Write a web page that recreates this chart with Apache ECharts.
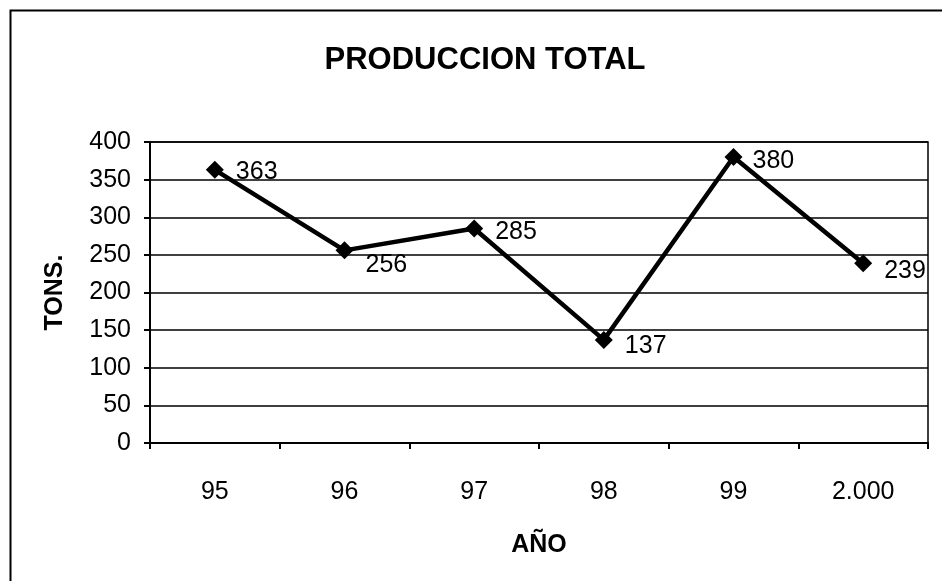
<!DOCTYPE html>
<html>
<head>
<meta charset="utf-8">
<script src="https://cdn.jsdelivr.net/npm/echarts@6/dist/echarts.min.js"></script>
<style>
  html, body { margin: 0; padding: 0; background: #fff; }
  #main { width: 942px; height: 581px; }
</style>
</head>
<body>
<div id="main"></div>
<script>
var years = ['95', '96', '97', '98', '99', '2.000'];
var tons = [363, 256, 285, 137, 380, 239];
var yTicks = [0, 50, 100, 150, 200, 250, 300, 350, 400];

// nudge for each value label (px)
var labelNudge = [[0, 2], [0, 15], [0, 4], [0, 6], [-2, 4], [0, 8]];

var font = 'Liberation Sans, Arial, sans-serif';

var chart = echarts.init(document.getElementById('main'));

var points = tons.map(function (v, i) {
	return {
		value: v,
		label: { offset: labelNudge[i] }
	};
});

chart.setOption({
	animation: false,
	title: {
		text: 'PRODUCCION TOTAL',
		left: 480,
		top: 40,
		textAlign: 'center',
		textStyle: { fontFamily: font, fontSize: 31, fontWeight: 'bold', color: '#000' }
	},
	graphic: [{
		type: 'rect',
		shape: { x: 10.5, y: 10.5, width: 940, height: 580 },
		style: { fill: 'none', stroke: '#000', lineWidth: 2 }
	}],
	grid: {
		left: 150, right: 14, top: 142, bottom: 138,
		show: true, borderColor: '#000', borderWidth: 1.5
	},
	xAxis: {
		type: 'category',
		data: years,
		boundaryGap: true,
		name: 'AÑO',
		nameLocation: 'middle',
		nameGap: 90,
		nameTextStyle: { fontFamily: font, fontSize: 25, fontWeight: 'bold', color: '#000' },
		axisLine: { lineStyle: { color: '#000', width: 2 } },
		axisTick: { show: true, length: 6, lineStyle: { color: '#000', width: 2 } },
		axisLabel: { margin: 37, fontFamily: font, fontSize: 25, color: '#000' },
		splitLine: { show: false }
	},
	yAxis: {
		type: 'value',
		min: 0,
		max: 400,
		interval: 50,
		name: 'TONS.',
		nameLocation: 'middle',
		nameGap: 82,
		nameRotate: 90,
		nameTextStyle: { fontFamily: font, fontSize: 25, fontWeight: 'bold', color: '#000' },
		axisLine: { show: true, lineStyle: { color: '#000', width: 2 } },
		axisTick: { show: true, length: 6, lineStyle: { color: '#000', width: 2 } },
		axisLabel: {
			margin: 19,
			fontFamily: font,
			fontSize: 25,
			color: '#000',
			formatter: function (v) { return yTicks.indexOf(v) >= 0 ? String(v) : ''; }
		},
		splitLine: { show: true, lineStyle: { color: '#000', width: 1.5 } }
	},
	series: [{
		name: 'TONS.',
		type: 'line',
		data: points,
		symbol: 'diamond',
		symbolSize: 18,
		itemStyle: { color: '#000' },
		lineStyle: { color: '#000', width: 4.5 },
		label: {
			show: true,
			position: 'right',
			distance: 12,
			fontFamily: font,
			fontSize: 25,
			color: '#000'
		}
	}]
});
</script>
</body>
</html>
